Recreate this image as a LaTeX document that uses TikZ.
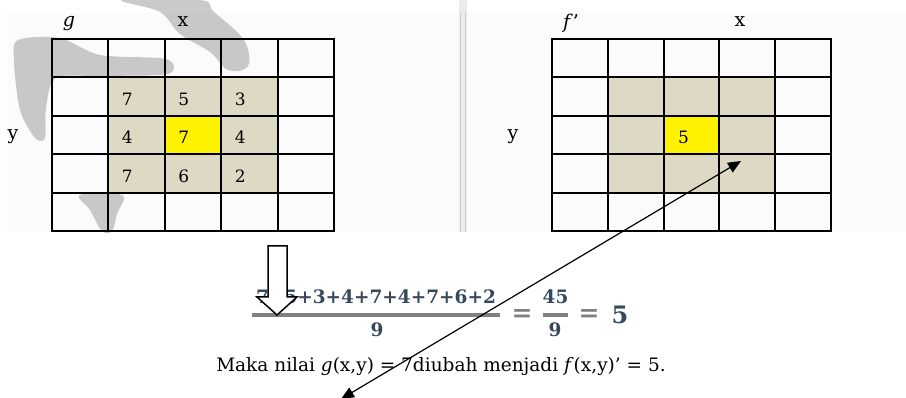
\documentclass[tikz,border=0pt]{standalone}
\usepackage{fontspec}
\setmainfont{DejaVu Serif}
\usepackage{tikz}
\usetikzlibrary{arrows.meta,positioning,calc}

\definecolor{cellbg}{HTML}{DDD9C4}
\definecolor{smudge}{HTML}{B8B8B8}
\definecolor{eqink}{HTML}{37485C}
\definecolor{panel}{HTML}{FBFBFB}

\begin{document}
\begin{tikzpicture}[x=1pt, y=-1pt, line width=2pt,
    lbl/.style={font=\fontsize{19}{22}\selectfont, inner sep=0pt},
    num/.style={font=\fontsize{17}{20}\selectfont, inner sep=0pt},
    eqn/.style={font=\fontsize{18.5}{22}\selectfont\bfseries, inner sep=0pt, eqink},
    eqsign/.style={font=\fontsize{25}{28}\selectfont\bfseries, inner sep=0pt, gray},
    gridline/.style={line width=2pt, line cap=rect}]

    \useasboundingbox (0,0) rectangle (906,398);
    \fill[panel] (7,13) rectangle (906,232);

    % --- grid origins (top left corners) ---
                \coordinate (G0) at (52,39);    % grid g
                \coordinate (F0) at (552,39);   % grid f'

    % --- cell sizes ---
                \def\cw{56.4}
                \def\cwf{55.8}
                \def\ch{38.4}

    % --- grey smudge behind grid g ---
                \begin{scope}[smudge, opacity=0.75]
                    \fill plot[smooth cycle, tension=0.6] coordinates {(122,0) (200,0) (214,12) (244,40) (248,66) (228,70) (210,52) (180,34) (160,12)};
                    \fill plot[smooth cycle, tension=0.5] coordinates {(18,40) (60,38) (100,55) (166,59) (168,74) (100,76) (56,78) (46,108) (45,138) (35,138) (20,110) (14,62)};
                    \fill plot[smooth cycle, tension=0.6] coordinates {(80,195) (122,195) (117,214) (112,231) (102,231) (90,210)};
                \end{scope}

    % --- separator ---
                \fill[gray!15] (459,0) rectangle (467,232);
                \draw[gray!40, line width=1.6pt] (460.5,12) -- (460.5,232);
                \draw[gray!40, line width=1.6pt] (465.5,12) -- (465.5,232);

    % --- grid g ---
                \begin{scope}[shift={(G0)}]
                    \fill[cellbg] (\cw,\ch) rectangle (4*\cw,4*\ch);
                    \fill[yellow] (2*\cw,2*\ch) rectangle (3*\cw,3*\ch);
                    \foreach \i in {0,...,5} {
                        \draw[gridline] (\i*\cw,0) -- (\i*\cw,5*\ch);
                        \draw[gridline] (0,\i*\ch) -- (5*\cw,\i*\ch);
                    }
                    \foreach \v [count=\k from 0] in {7,5,3,4,7,4,7,6,2} {
                        \pgfmathtruncatemacro{\cc}{mod(\k,3)+1}
                        \pgfmathtruncatemacro{\rr}{int(\k/3)+1}
                        \node[num] (g\k) at (\cc*\cw+19,\rr*\ch+0.5*\ch+2.5) {\v};
                    }
                \end{scope}

    % --- grid f' ---
                \begin{scope}[shift={(F0)}]
                    \fill[cellbg] (\cwf,\ch) rectangle (4*\cwf,4*\ch);
                    \fill[yellow] (2*\cwf,2*\ch) rectangle (3*\cwf,3*\ch);
                    \foreach \i in {0,...,5} {
                        \draw[gridline] (\i*\cwf,0) -- (\i*\cwf,5*\ch);
                        \draw[gridline] (0,\i*\ch) -- (5*\cwf,\i*\ch);
                    }
                    \node[num] (f4) at (2*\cwf+20,2.5*\ch+2.5) {5};
                \end{scope}

    % --- axis labels ---
                \node[lbl] (gname) at ($(G0)+(17,-15.5)$) {\textit{g}};
                \node[lbl] (gx) at ($(G0)+(131,-17)$) {x};
                \node[lbl] (gy) at ($(G0)+(-39,98)$) {y};
                \node[lbl] (fname) at ($(F0)+(19,-16)$) {\textit{f}'};
                \node[lbl] (fx) at ($(F0)+(188,-17)$) {x};
                \node[lbl] (fy) at ($(F0)+(-39,98)$) {y};

    % --- mean formula, built from parts ---
                \node[eqn] (top1) at (376,296.5) {7+5+3+4+7+4+7+6+2};
                \node[eqn] (bot1) at (377,330) {9};
                \node[eqsign] (eq1) at (522,316) {=};
                \node[eqn] (top2) at (555.5,296.5) {45};
                \node[eqn] (bot2) at (555,330) {9};
                \node[eqsign] (eq2) at (589,316) {=};
                \node[eqn, font=\fontsize{24}{28}\selectfont\bfseries] (res) at (620,315) {5};
                \draw[gray, line width=4.5pt] (252,315) -- (500,315);
                \draw[gray, line width=4.5pt] (543,315) -- (568,315);

    % --- block arrow down ---
                \draw[fill=white, line width=1.5pt, line join=miter]
                    (268,246) -- (287,246) -- (287,297) -- (297,297) -- (277,315)
                    -- (257,297) -- (268,297) -- cycle;

    % --- sentence ---
                \node[lbl, anchor=base, font=\fontsize{18.5}{22}\selectfont] (mk) at (441,372) {Maka nilai \textit{g}(x,y) = 7diubah menjadi \textit{f}(x,y)' = 5.};

    % --- long arrow ---
                \coordinate (tipA) at (741,161);
                \coordinate (tipB) at (341,399);
                \draw[line width=1.2pt, {Triangle[length=13pt,width=11pt]}-{Triangle[length=13pt,width=11pt]}] (tipB) -- (tipA);

\end{tikzpicture}
\end{document}
